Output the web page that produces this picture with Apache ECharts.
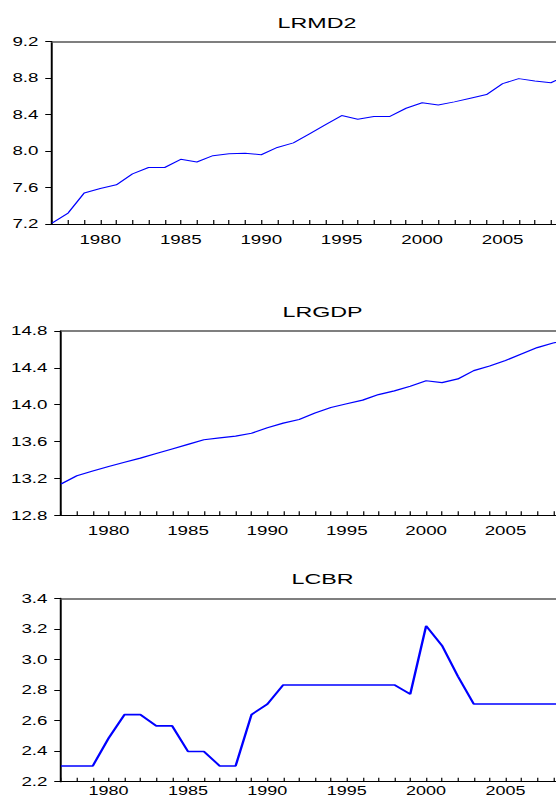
<!DOCTYPE html>
<html>
<head>
<meta charset="utf-8">
<script src="https://cdn.jsdelivr.net/npm/echarts@6/dist/echarts.min.js"></script>
<style>
html,body{margin:0;padding:0;background:#fff;}
#wrap{width:556px;height:799px;overflow:hidden;position:relative;background:#fff;}
#c{height:799px;transform-origin:0 0;}
</style>
</head>
<body>
<div id="wrap"><div id="c"></div></div>
<script>
// ---- data ----
const years = [1977,1978,1979,1980,1981,1982,1983,1984,1985,1986,1987,1988,1989,1990,1991,1992,1993,1994,1995,1996,1997,1998,1999,2000,2001,2002,2003,2004,2005,2006,2007,2008,2009];
const titles = ['LRMD2','LRGDP','LCBR'];
const lrmd2 = [7.21,7.32,7.54,7.59,7.63,7.75,7.82,7.82,7.91,7.88,7.95,7.97,7.975,7.96,8.04,8.09,8.19,8.29,8.39,8.35,8.38,8.38,8.47,8.53,8.505,8.54,8.58,8.62,8.74,8.795,8.77,8.75,8.83];
const lrgdp = [13.14,13.23,13.28,13.33,13.375,13.42,13.47,13.52,13.57,13.62,13.64,13.66,13.69,13.75,13.80,13.84,13.91,13.97,14.01,14.05,14.11,14.15,14.20,14.26,14.24,14.28,14.37,14.42,14.48,14.55,14.62,14.67,14.71];
const lcbr = [2.303,2.303,2.303,2.485,2.639,2.639,2.565,2.565,2.398,2.398,2.303,2.303,2.639,2.708,2.833,2.833,2.833,2.833,2.833,2.833,2.833,2.833,2.773,3.219,3.091,2.890,2.708,2.708,2.708,2.708,2.708,2.708,2.708];
const yTicks = [
  {min:7.2, max:9.2, interval:0.4},
  {min:12.8, max:14.8, interval:0.4},
  {min:2.2, max:3.4, interval:0.2}
];
const seriesList = [lrmd2, lrgdp, lcbr];

// ---- layout (target pixels, horizontally stretched) ----
const S = 1.5;
const W = 556 / S;
document.getElementById('c').style.width = W + 'px';
document.getElementById('c').style.transform = 'scaleX(' + S + ')';

const boxes = [
  {l:52, r:567, top:41.7, bot:224, ty:19, lw:1, lm:9, fs:12.5},
  {l:61, r:569, top:331, bot:515.3, ty:308, lw:1.2, lm:9, fs:12.5},
  {l:61, r:569, top:598.3, bot:781.7, ty:575, lw:1.6, lm:3, fs:12}
];
const font = 'Liberation Sans, Arial, sans-serif';

const grid = [], xAxis = [], yAxis = [], series = [], title = [];
boxes.forEach((b, i) => {
  grid.push({left: b.l / S, width: (b.r - b.l) / S, top: b.top, height: b.bot - b.top,
             containLabel: false, outerBoundsMode: 'none'});
  xAxis.push({
    type: 'value', gridIndex: i, min: 1977, max: 2009, interval: 1,
    axisLine: {show: true, onZero: false, lineStyle: {color: '#000', width: 1}},
    axisTick: {show: true, inside: true, length: 4, lineStyle: {color: '#000', width: 0.8}},
    splitLine: {show: false},
    axisLabel: {
      show: true, margin: b.lm, color: '#000', fontFamily: font, fontSize: b.fs,
      formatter: v => (v % 5 === 0 ? String(v) : '')
    }
  });
  xAxis.push({
    type: 'value', gridIndex: i, position: 'top', min: 1977, max: 2009,
    axisLine: {show: true, onZero: false, lineStyle: {color: '#555', width: 1.6}},
    axisTick: {show: false}, axisLabel: {show: false}, splitLine: {show: false}
  });
  yAxis.push({
    type: 'value', gridIndex: i, min: yTicks[i].min, max: yTicks[i].max, interval: yTicks[i].interval,
    axisLine: {show: true, onZero: false, lineStyle: {color: '#000', width: 1.3}},
    axisTick: {show: true, inside: false, length: 4.5, lineStyle: {color: '#000', width: 1}},
    splitLine: {show: false},
    axisLabel: {
      margin: 9, color: '#000', fontFamily: font, fontSize: 12.5,
      formatter: v => v.toFixed(1)
    }
  });
  series.push({
    type: 'line', xAxisIndex: i * 2, yAxisIndex: i,
    data: years.map((y, k) => [y, seriesList[i][k]]),
    showSymbol: false, symbol: 'none', animation: false,
    lineStyle: {color: '#0000ff', width: b.lw},
    clip: true
  });
  title.push({
    text: titles[i], left: ((b.l + b.r) / 2) / S, top: b.ty - 9, textAlign: 'center',
    textStyle: {fontFamily: font, fontSize: 15.5, fontWeight: 'normal', color: '#000'}
  });
});

const chart = echarts.init(document.getElementById('c'), null, {renderer: 'svg', width: W, height: 799});
chart.setOption({
  animation: false,
  backgroundColor: '#fff',
  title, grid, xAxis, yAxis, series
});
</script>
</body>
</html>
